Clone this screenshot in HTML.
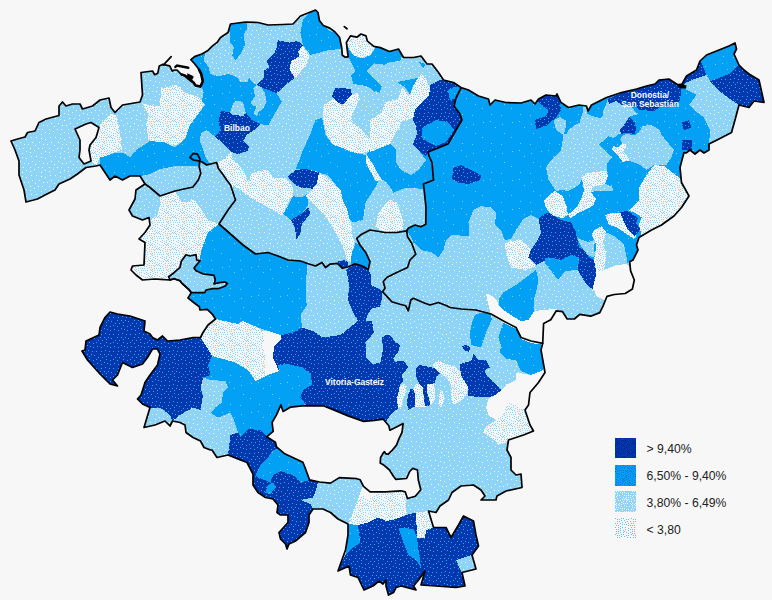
<!DOCTYPE html>
<html lang="es"><head><meta charset="utf-8"><title>Mapa</title>
<style>html,body{margin:0;padding:0;background:#f7f7f7;}svg{display:block}</style></head>
<body><svg width="772" height="600" viewBox="0 0 772 600"><defs><pattern id="pD" width="17" height="17" patternUnits="userSpaceOnUse"><rect width="17" height="17" fill="#0038B0"/><rect x="0" y="0" width="1" height="1" fill="#2CA6F8"/><rect x="2" y="5" width="1" height="1" fill="#2CA6F8"/><rect x="2" y="14" width="1" height="1" fill="#2CA6F8"/><rect x="3" y="10" width="1" height="1" fill="#2CA6F8"/><rect x="4" y="2" width="1" height="1" fill="#2CA6F8"/><rect x="4" y="16" width="1" height="1" fill="#2CA6F8"/><rect x="5" y="6" width="1" height="1" fill="#2CA6F8"/><rect x="6" y="14" width="1" height="1" fill="#2CA6F8"/><rect x="7" y="11" width="1" height="1" fill="#2CA6F8"/><rect x="8" y="3" width="1" height="1" fill="#2CA6F8"/><rect x="8" y="7" width="1" height="1" fill="#2CA6F8"/><rect x="9" y="15" width="1" height="1" fill="#2CA6F8"/><rect x="11" y="2" width="1" height="1" fill="#2CA6F8"/><rect x="11" y="11" width="1" height="1" fill="#2CA6F8"/><rect x="12" y="6" width="1" height="1" fill="#2CA6F8"/><rect x="13" y="0" width="1" height="1" fill="#2CA6F8"/><rect x="15" y="3" width="1" height="1" fill="#2CA6F8"/><rect x="15" y="14" width="1" height="1" fill="#2CA6F8"/><rect x="16" y="7" width="1" height="1" fill="#2CA6F8"/><rect x="16" y="11" width="1" height="1" fill="#2CA6F8"/></pattern><pattern id="pM" width="29" height="29" patternUnits="userSpaceOnUse"><rect width="29" height="29" fill="#02A1F5"/><rect x="2" y="11" width="1" height="1" fill="#7FD0F2"/><rect x="8" y="28" width="1" height="1" fill="#7FD0F2"/><rect x="9" y="8" width="1" height="1" fill="#7FD0F2"/><rect x="11" y="17" width="1" height="1" fill="#7FD0F2"/><rect x="18" y="21" width="1" height="1" fill="#7FD0F2"/><rect x="19" y="6" width="1" height="1" fill="#7FD0F2"/><rect x="26" y="5" width="1" height="1" fill="#7FD0F2"/><rect x="27" y="27" width="1" height="1" fill="#7FD0F2"/></pattern><pattern id="pL" width="19" height="19" patternUnits="userSpaceOnUse"><rect width="19" height="19" fill="#8DD4F7"/><rect x="0" y="15" width="1" height="1" fill="#FFFFFF"/><rect x="1" y="9" width="1" height="1" fill="#FFFFFF"/><rect x="3" y="1" width="1" height="1" fill="#FFFFFF"/><rect x="3" y="5" width="1" height="1" fill="#FFFFFF"/><rect x="4" y="15" width="1" height="1" fill="#FFFFFF"/><rect x="5" y="11" width="1" height="1" fill="#FFFFFF"/><rect x="7" y="6" width="1" height="1" fill="#FFFFFF"/><rect x="7" y="18" width="1" height="1" fill="#FFFFFF"/><rect x="9" y="11" width="1" height="1" fill="#FFFFFF"/><rect x="11" y="0" width="1" height="1" fill="#FFFFFF"/><rect x="11" y="15" width="1" height="1" fill="#FFFFFF"/><rect x="12" y="4" width="1" height="1" fill="#FFFFFF"/><rect x="13" y="9" width="1" height="1" fill="#FFFFFF"/><rect x="15" y="17" width="1" height="1" fill="#FFFFFF"/><rect x="16" y="12" width="1" height="1" fill="#FFFFFF"/><rect x="17" y="4" width="1" height="1" fill="#FFFFFF"/></pattern><pattern id="pX" width="16" height="16" patternUnits="userSpaceOnUse"><rect width="16" height="16" fill="#f7f7f7"/><rect x="0" y="1" width="1" height="1" fill="#8AD2F7"/><rect x="0" y="10" width="1" height="1" fill="#8AD2F7"/><rect x="0" y="12" width="1" height="1" fill="#8AD2F7"/><rect x="1" y="5" width="1" height="1" fill="#8AD2F7"/><rect x="1" y="7" width="1" height="1" fill="#8AD2F7"/><rect x="1" y="14" width="1" height="1" fill="#8AD2F7"/><rect x="2" y="0" width="1" height="1" fill="#8AD2F7"/><rect x="2" y="2" width="1" height="1" fill="#8AD2F7"/><rect x="2" y="10" width="1" height="1" fill="#8AD2F7"/><rect x="3" y="5" width="1" height="1" fill="#8AD2F7"/><rect x="3" y="8" width="1" height="1" fill="#8AD2F7"/><rect x="3" y="12" width="1" height="1" fill="#8AD2F7"/><rect x="3" y="14" width="1" height="1" fill="#8AD2F7"/><rect x="4" y="1" width="1" height="1" fill="#8AD2F7"/><rect x="4" y="3" width="1" height="1" fill="#8AD2F7"/><rect x="5" y="4" width="1" height="1" fill="#8AD2F7"/><rect x="5" y="7" width="1" height="1" fill="#8AD2F7"/><rect x="5" y="9" width="1" height="1" fill="#8AD2F7"/><rect x="5" y="11" width="1" height="1" fill="#8AD2F7"/><rect x="6" y="0" width="1" height="1" fill="#8AD2F7"/><rect x="6" y="2" width="1" height="1" fill="#8AD2F7"/><rect x="6" y="5" width="1" height="1" fill="#8AD2F7"/><rect x="6" y="13" width="1" height="1" fill="#8AD2F7"/><rect x="7" y="4" width="1" height="1" fill="#8AD2F7"/><rect x="7" y="9" width="1" height="1" fill="#8AD2F7"/><rect x="7" y="11" width="1" height="1" fill="#8AD2F7"/><rect x="7" y="14" width="1" height="1" fill="#8AD2F7"/><rect x="8" y="3" width="1" height="1" fill="#8AD2F7"/><rect x="8" y="5" width="1" height="1" fill="#8AD2F7"/><rect x="8" y="7" width="1" height="1" fill="#8AD2F7"/><rect x="8" y="13" width="1" height="1" fill="#8AD2F7"/><rect x="8" y="15" width="1" height="1" fill="#8AD2F7"/><rect x="9" y="1" width="1" height="1" fill="#8AD2F7"/><rect x="9" y="9" width="1" height="1" fill="#8AD2F7"/><rect x="10" y="4" width="1" height="1" fill="#8AD2F7"/><rect x="10" y="7" width="1" height="1" fill="#8AD2F7"/><rect x="10" y="10" width="1" height="1" fill="#8AD2F7"/><rect x="10" y="12" width="1" height="1" fill="#8AD2F7"/><rect x="10" y="14" width="1" height="1" fill="#8AD2F7"/><rect x="11" y="0" width="1" height="1" fill="#8AD2F7"/><rect x="11" y="2" width="1" height="1" fill="#8AD2F7"/><rect x="11" y="6" width="1" height="1" fill="#8AD2F7"/><rect x="11" y="9" width="1" height="1" fill="#8AD2F7"/><rect x="12" y="8" width="1" height="1" fill="#8AD2F7"/><rect x="12" y="12" width="1" height="1" fill="#8AD2F7"/><rect x="13" y="0" width="1" height="1" fill="#8AD2F7"/><rect x="13" y="3" width="1" height="1" fill="#8AD2F7"/><rect x="13" y="6" width="1" height="1" fill="#8AD2F7"/><rect x="13" y="9" width="1" height="1" fill="#8AD2F7"/><rect x="13" y="14" width="1" height="1" fill="#8AD2F7"/><rect x="14" y="8" width="1" height="1" fill="#8AD2F7"/><rect x="14" y="12" width="1" height="1" fill="#8AD2F7"/><rect x="15" y="4" width="1" height="1" fill="#8AD2F7"/><rect x="15" y="7" width="1" height="1" fill="#8AD2F7"/><rect x="15" y="9" width="1" height="1" fill="#8AD2F7"/><rect x="15" y="14" width="1" height="1" fill="#8AD2F7"/></pattern><pattern id="qD" width="16" height="16" patternUnits="userSpaceOnUse"><rect width="16" height="16" fill="#0038B0"/><rect x="0" y="0" width="1" height="1" fill="#00207F"/><rect x="0" y="6" width="1" height="1" fill="#00207F"/><rect x="0" y="9" width="1" height="1" fill="#00207F"/><rect x="0" y="11" width="1" height="1" fill="#00207F"/><rect x="0" y="14" width="1" height="1" fill="#00207F"/><rect x="1" y="2" width="1" height="1" fill="#00207F"/><rect x="1" y="4" width="1" height="1" fill="#00207F"/><rect x="1" y="8" width="1" height="1" fill="#00207F"/><rect x="2" y="10" width="1" height="1" fill="#00207F"/><rect x="2" y="15" width="1" height="1" fill="#00207F"/><rect x="3" y="1" width="1" height="1" fill="#00207F"/><rect x="3" y="3" width="1" height="1" fill="#00207F"/><rect x="3" y="5" width="1" height="1" fill="#00207F"/><rect x="3" y="7" width="1" height="1" fill="#00207F"/><rect x="3" y="12" width="1" height="1" fill="#00207F"/><rect x="4" y="4" width="1" height="1" fill="#00207F"/><rect x="4" y="9" width="1" height="1" fill="#00207F"/><rect x="4" y="14" width="1" height="1" fill="#00207F"/><rect x="5" y="1" width="1" height="1" fill="#00207F"/><rect x="5" y="3" width="1" height="1" fill="#00207F"/><rect x="5" y="5" width="1" height="1" fill="#00207F"/><rect x="5" y="12" width="1" height="1" fill="#00207F"/><rect x="5" y="15" width="1" height="1" fill="#00207F"/><rect x="6" y="6" width="1" height="1" fill="#00207F"/><rect x="6" y="8" width="1" height="1" fill="#00207F"/><rect x="6" y="10" width="1" height="1" fill="#00207F"/><rect x="7" y="1" width="1" height="1" fill="#00207F"/><rect x="7" y="5" width="1" height="1" fill="#00207F"/><rect x="7" y="12" width="1" height="1" fill="#00207F"/><rect x="7" y="14" width="1" height="1" fill="#00207F"/><rect x="8" y="4" width="1" height="1" fill="#00207F"/><rect x="8" y="7" width="1" height="1" fill="#00207F"/><rect x="8" y="9" width="1" height="1" fill="#00207F"/><rect x="8" y="11" width="1" height="1" fill="#00207F"/><rect x="9" y="0" width="1" height="1" fill="#00207F"/><rect x="9" y="3" width="1" height="1" fill="#00207F"/><rect x="9" y="10" width="1" height="1" fill="#00207F"/><rect x="9" y="12" width="1" height="1" fill="#00207F"/><rect x="9" y="14" width="1" height="1" fill="#00207F"/><rect x="10" y="2" width="1" height="1" fill="#00207F"/><rect x="10" y="5" width="1" height="1" fill="#00207F"/><rect x="10" y="8" width="1" height="1" fill="#00207F"/><rect x="10" y="11" width="1" height="1" fill="#00207F"/><rect x="11" y="1" width="1" height="1" fill="#00207F"/><rect x="11" y="4" width="1" height="1" fill="#00207F"/><rect x="11" y="10" width="1" height="1" fill="#00207F"/><rect x="11" y="12" width="1" height="1" fill="#00207F"/><rect x="11" y="15" width="1" height="1" fill="#00207F"/><rect x="12" y="6" width="1" height="1" fill="#00207F"/><rect x="13" y="0" width="1" height="1" fill="#00207F"/><rect x="13" y="2" width="1" height="1" fill="#00207F"/><rect x="13" y="5" width="1" height="1" fill="#00207F"/><rect x="13" y="8" width="1" height="1" fill="#00207F"/><rect x="13" y="11" width="1" height="1" fill="#00207F"/><rect x="13" y="13" width="1" height="1" fill="#00207F"/><rect x="14" y="9" width="1" height="1" fill="#00207F"/><rect x="15" y="2" width="1" height="1" fill="#00207F"/><rect x="15" y="4" width="1" height="1" fill="#00207F"/><rect x="15" y="8" width="1" height="1" fill="#00207F"/><rect x="15" y="13" width="1" height="1" fill="#00207F"/></pattern><pattern id="qM" width="16" height="16" patternUnits="userSpaceOnUse"><rect width="16" height="16" fill="#02A1F5"/><rect x="0" y="0" width="1" height="1" fill="#0A6FD0"/><rect x="0" y="4" width="1" height="1" fill="#0A6FD0"/><rect x="0" y="14" width="1" height="1" fill="#0A6FD0"/><rect x="1" y="2" width="1" height="1" fill="#0A6FD0"/><rect x="1" y="6" width="1" height="1" fill="#0A6FD0"/><rect x="1" y="9" width="1" height="1" fill="#0A6FD0"/><rect x="1" y="12" width="1" height="1" fill="#0A6FD0"/><rect x="2" y="7" width="1" height="1" fill="#0A6FD0"/><rect x="2" y="11" width="1" height="1" fill="#0A6FD0"/><rect x="2" y="13" width="1" height="1" fill="#0A6FD0"/><rect x="2" y="15" width="1" height="1" fill="#0A6FD0"/><rect x="3" y="1" width="1" height="1" fill="#0A6FD0"/><rect x="3" y="3" width="1" height="1" fill="#0A6FD0"/><rect x="3" y="6" width="1" height="1" fill="#0A6FD0"/><rect x="3" y="8" width="1" height="1" fill="#0A6FD0"/><rect x="4" y="4" width="1" height="1" fill="#0A6FD0"/><rect x="4" y="10" width="1" height="1" fill="#0A6FD0"/><rect x="4" y="12" width="1" height="1" fill="#0A6FD0"/><rect x="4" y="14" width="1" height="1" fill="#0A6FD0"/><rect x="5" y="0" width="1" height="1" fill="#0A6FD0"/><rect x="5" y="2" width="1" height="1" fill="#0A6FD0"/><rect x="5" y="5" width="1" height="1" fill="#0A6FD0"/><rect x="5" y="7" width="1" height="1" fill="#0A6FD0"/><rect x="6" y="3" width="1" height="1" fill="#0A6FD0"/><rect x="6" y="6" width="1" height="1" fill="#0A6FD0"/><rect x="6" y="9" width="1" height="1" fill="#0A6FD0"/><rect x="6" y="11" width="1" height="1" fill="#0A6FD0"/><rect x="6" y="13" width="1" height="1" fill="#0A6FD0"/><rect x="7" y="4" width="1" height="1" fill="#0A6FD0"/><rect x="7" y="7" width="1" height="1" fill="#0A6FD0"/><rect x="8" y="1" width="1" height="1" fill="#0A6FD0"/><rect x="8" y="3" width="1" height="1" fill="#0A6FD0"/><rect x="8" y="5" width="1" height="1" fill="#0A6FD0"/><rect x="8" y="9" width="1" height="1" fill="#0A6FD0"/><rect x="8" y="15" width="1" height="1" fill="#0A6FD0"/><rect x="9" y="7" width="1" height="1" fill="#0A6FD0"/><rect x="9" y="11" width="1" height="1" fill="#0A6FD0"/><rect x="9" y="13" width="1" height="1" fill="#0A6FD0"/><rect x="10" y="0" width="1" height="1" fill="#0A6FD0"/><rect x="10" y="2" width="1" height="1" fill="#0A6FD0"/><rect x="10" y="4" width="1" height="1" fill="#0A6FD0"/><rect x="10" y="9" width="1" height="1" fill="#0A6FD0"/><rect x="11" y="6" width="1" height="1" fill="#0A6FD0"/><rect x="11" y="10" width="1" height="1" fill="#0A6FD0"/><rect x="11" y="12" width="1" height="1" fill="#0A6FD0"/><rect x="12" y="2" width="1" height="1" fill="#0A6FD0"/><rect x="12" y="4" width="1" height="1" fill="#0A6FD0"/><rect x="12" y="15" width="1" height="1" fill="#0A6FD0"/><rect x="13" y="6" width="1" height="1" fill="#0A6FD0"/><rect x="13" y="8" width="1" height="1" fill="#0A6FD0"/><rect x="13" y="10" width="1" height="1" fill="#0A6FD0"/><rect x="13" y="12" width="1" height="1" fill="#0A6FD0"/><rect x="14" y="0" width="1" height="1" fill="#0A6FD0"/><rect x="14" y="3" width="1" height="1" fill="#0A6FD0"/><rect x="14" y="14" width="1" height="1" fill="#0A6FD0"/><rect x="15" y="1" width="1" height="1" fill="#0A6FD0"/><rect x="15" y="6" width="1" height="1" fill="#0A6FD0"/><rect x="15" y="8" width="1" height="1" fill="#0A6FD0"/><rect x="15" y="11" width="1" height="1" fill="#0A6FD0"/><rect x="15" y="15" width="1" height="1" fill="#0A6FD0"/></pattern><pattern id="qL" width="16" height="16" patternUnits="userSpaceOnUse"><rect width="16" height="16" fill="#8DD4F7"/><rect x="0" y="3" width="1" height="1" fill="#FFFFFF"/><rect x="0" y="9" width="1" height="1" fill="#FFFFFF"/><rect x="0" y="12" width="1" height="1" fill="#FFFFFF"/><rect x="0" y="15" width="1" height="1" fill="#FFFFFF"/><rect x="1" y="2" width="1" height="1" fill="#FFFFFF"/><rect x="1" y="7" width="1" height="1" fill="#FFFFFF"/><rect x="2" y="1" width="1" height="1" fill="#FFFFFF"/><rect x="2" y="3" width="1" height="1" fill="#FFFFFF"/><rect x="2" y="5" width="1" height="1" fill="#FFFFFF"/><rect x="2" y="10" width="1" height="1" fill="#FFFFFF"/><rect x="2" y="13" width="1" height="1" fill="#FFFFFF"/><rect x="2" y="15" width="1" height="1" fill="#FFFFFF"/><rect x="3" y="4" width="1" height="1" fill="#FFFFFF"/><rect x="3" y="7" width="1" height="1" fill="#FFFFFF"/><rect x="4" y="1" width="1" height="1" fill="#FFFFFF"/><rect x="4" y="3" width="1" height="1" fill="#FFFFFF"/><rect x="4" y="13" width="1" height="1" fill="#FFFFFF"/><rect x="4" y="15" width="1" height="1" fill="#FFFFFF"/><rect x="5" y="5" width="1" height="1" fill="#FFFFFF"/><rect x="5" y="10" width="1" height="1" fill="#FFFFFF"/><rect x="6" y="1" width="1" height="1" fill="#FFFFFF"/><rect x="6" y="7" width="1" height="1" fill="#FFFFFF"/><rect x="6" y="15" width="1" height="1" fill="#FFFFFF"/><rect x="7" y="3" width="1" height="1" fill="#FFFFFF"/><rect x="7" y="5" width="1" height="1" fill="#FFFFFF"/><rect x="7" y="8" width="1" height="1" fill="#FFFFFF"/><rect x="7" y="13" width="1" height="1" fill="#FFFFFF"/><rect x="8" y="0" width="1" height="1" fill="#FFFFFF"/><rect x="8" y="7" width="1" height="1" fill="#FFFFFF"/><rect x="8" y="9" width="1" height="1" fill="#FFFFFF"/><rect x="8" y="11" width="1" height="1" fill="#FFFFFF"/><rect x="9" y="2" width="1" height="1" fill="#FFFFFF"/><rect x="9" y="13" width="1" height="1" fill="#FFFFFF"/><rect x="9" y="15" width="1" height="1" fill="#FFFFFF"/><rect x="10" y="4" width="1" height="1" fill="#FFFFFF"/><rect x="10" y="8" width="1" height="1" fill="#FFFFFF"/><rect x="10" y="11" width="1" height="1" fill="#FFFFFF"/><rect x="11" y="7" width="1" height="1" fill="#FFFFFF"/><rect x="11" y="9" width="1" height="1" fill="#FFFFFF"/><rect x="11" y="15" width="1" height="1" fill="#FFFFFF"/><rect x="12" y="1" width="1" height="1" fill="#FFFFFF"/><rect x="12" y="4" width="1" height="1" fill="#FFFFFF"/><rect x="12" y="12" width="1" height="1" fill="#FFFFFF"/><rect x="13" y="6" width="1" height="1" fill="#FFFFFF"/><rect x="13" y="8" width="1" height="1" fill="#FFFFFF"/><rect x="13" y="10" width="1" height="1" fill="#FFFFFF"/><rect x="14" y="3" width="1" height="1" fill="#FFFFFF"/><rect x="14" y="12" width="1" height="1" fill="#FFFFFF"/><rect x="14" y="14" width="1" height="1" fill="#FFFFFF"/><rect x="15" y="1" width="1" height="1" fill="#FFFFFF"/><rect x="15" y="5" width="1" height="1" fill="#FFFFFF"/><rect x="15" y="7" width="1" height="1" fill="#FFFFFF"/></pattern><pattern id="qX" width="16" height="16" patternUnits="userSpaceOnUse"><rect width="16" height="16" fill="#f7f7f7"/><rect x="0" y="3" width="1" height="1" fill="#5CC0F5"/><rect x="0" y="8" width="1" height="1" fill="#5CC0F5"/><rect x="0" y="12" width="1" height="1" fill="#5CC0F5"/><rect x="1" y="1" width="1" height="1" fill="#5CC0F5"/><rect x="1" y="10" width="1" height="1" fill="#5CC0F5"/><rect x="1" y="15" width="1" height="1" fill="#5CC0F5"/><rect x="2" y="4" width="1" height="1" fill="#5CC0F5"/><rect x="2" y="7" width="1" height="1" fill="#5CC0F5"/><rect x="2" y="12" width="1" height="1" fill="#5CC0F5"/><rect x="3" y="9" width="1" height="1" fill="#5CC0F5"/><rect x="4" y="0" width="1" height="1" fill="#5CC0F5"/><rect x="4" y="2" width="1" height="1" fill="#5CC0F5"/><rect x="4" y="5" width="1" height="1" fill="#5CC0F5"/><rect x="4" y="7" width="1" height="1" fill="#5CC0F5"/><rect x="4" y="11" width="1" height="1" fill="#5CC0F5"/><rect x="4" y="13" width="1" height="1" fill="#5CC0F5"/><rect x="6" y="1" width="1" height="1" fill="#5CC0F5"/><rect x="6" y="4" width="1" height="1" fill="#5CC0F5"/><rect x="6" y="9" width="1" height="1" fill="#5CC0F5"/><rect x="6" y="13" width="1" height="1" fill="#5CC0F5"/><rect x="7" y="6" width="1" height="1" fill="#5CC0F5"/><rect x="7" y="11" width="1" height="1" fill="#5CC0F5"/><rect x="7" y="15" width="1" height="1" fill="#5CC0F5"/><rect x="8" y="1" width="1" height="1" fill="#5CC0F5"/><rect x="8" y="3" width="1" height="1" fill="#5CC0F5"/><rect x="8" y="5" width="1" height="1" fill="#5CC0F5"/><rect x="8" y="13" width="1" height="1" fill="#5CC0F5"/><rect x="9" y="7" width="1" height="1" fill="#5CC0F5"/><rect x="9" y="9" width="1" height="1" fill="#5CC0F5"/><rect x="9" y="11" width="1" height="1" fill="#5CC0F5"/><rect x="10" y="1" width="1" height="1" fill="#5CC0F5"/><rect x="10" y="3" width="1" height="1" fill="#5CC0F5"/><rect x="10" y="5" width="1" height="1" fill="#5CC0F5"/><rect x="10" y="13" width="1" height="1" fill="#5CC0F5"/><rect x="10" y="15" width="1" height="1" fill="#5CC0F5"/><rect x="11" y="7" width="1" height="1" fill="#5CC0F5"/><rect x="11" y="9" width="1" height="1" fill="#5CC0F5"/><rect x="12" y="0" width="1" height="1" fill="#5CC0F5"/><rect x="12" y="2" width="1" height="1" fill="#5CC0F5"/><rect x="12" y="4" width="1" height="1" fill="#5CC0F5"/><rect x="12" y="11" width="1" height="1" fill="#5CC0F5"/><rect x="12" y="14" width="1" height="1" fill="#5CC0F5"/><rect x="13" y="6" width="1" height="1" fill="#5CC0F5"/><rect x="13" y="8" width="1" height="1" fill="#5CC0F5"/><rect x="14" y="10" width="1" height="1" fill="#5CC0F5"/><rect x="14" y="12" width="1" height="1" fill="#5CC0F5"/><rect x="14" y="15" width="1" height="1" fill="#5CC0F5"/><rect x="15" y="2" width="1" height="1" fill="#5CC0F5"/><rect x="15" y="4" width="1" height="1" fill="#5CC0F5"/><rect x="15" y="6" width="1" height="1" fill="#5CC0F5"/></pattern><clipPath id="cl"><path d="M11 141 L17.5 139 L25 137 L27.5 132.5 L35 131 L39 122.5 L46 119 L59 115.5 L59 106 L62.5 102 L66 106 L72.5 104 L80 104 L82.5 109 L92.5 106 L100 100 L109 98 L111 107.5 L115 112.5 L122.5 105 L140 102 L142.5 95 L141 72.5 L152.5 71 L154.7 74.7 L157.8 73.2 L159.3 65.9 L162.4 64.4 L169.7 65.9 L172.3 71.1 L174.4 70 L177 70 L181 74.2 L185.2 75.8 L189.4 79.4 L193.5 82.5 L195.6 85.6 L200.3 86.6 L202.8 81.5 L201.3 74.2 L198.7 69 L194.6 63.8 L190.9 59.7 L194.6 56.6 L201.8 54 L208 50.4 L212.2 46.2 L217.4 42.1 L220.5 37.5 L228 32.5 L230.5 24 L245.5 22 L258 22.5 L268 25 L283 24.5 L293 24 L300.5 16 L305.5 14 L315.5 10 L318 12.5 L319.4 20.4 L323.3 25.5 L329.8 28.1 L335 32 L339.5 37.2 L341.7 47.6 L342.3 55.3 L345.3 57.3 L348.2 56.6 L347.1 48.9 L346.4 42.4 L350.5 35.9 L357 37.2 L360.9 34 L366 35.9 L367.4 41.1 L373.8 46.3 L380.3 47.6 L389.4 51.5 L398.5 49 L403.5 57.5 L413.5 57.5 L421 56 L427 64 L432 64 L438.5 72.5 L443.5 80 L453.5 82.5 L461 87.5 L468.5 90 L478.5 96 L488.5 99 L490 105 L495 100 L506 102.5 L521 103 L531 100 L535 104 L538.5 99 L546 95 L556 96 L557 94 L561 102.5 L568.5 107.5 L579 105 L586.5 106 L588 111 L591.5 105 L606.5 97.5 L621.5 92.5 L636.5 89 L646.5 86 L655 84 L659 80 L669 79 L676.5 84 L681 86 L686.5 76 L696.5 70 L700 61 L706.5 55 L719 50 L729 46 L735 43 L736.5 49 L734 54 L739 65 L744 70 L749 74 L759 80 L764 102.5 L754 101 L749 107.5 L739 105 L735 120 L731.5 132.5 L719 139 L709 144 L709 150 L704 153 L700 150 L695 154 L690 150 L686 153 L684 152.5 L680 167.5 L681.5 182.5 L689 196 L681.5 207.5 L674 216 L661.5 225 L651.5 230 L639 237.5 L636.5 245 L638 250 L633 260 L629.7 261.8 L630.6 270.9 L634.3 280 L632.4 289 L625.2 293.5 L614.3 294.5 L607 296.3 L603.4 305.3 L599.8 312.6 L590.7 316.2 L579.8 314.4 L574.4 319 L567.2 319 L562.6 311.7 L556.3 310.8 L550.8 319.8 L543.6 323.5 L542.7 343.4 L541 350 L545 372.5 L538.5 382.5 L530 392.5 L528.5 405 L525 410 L530 425 L533.5 431 L523.5 435 L508.5 440 L507 450 L511 457.5 L511 470 L516 475 L521 474 L522 487.5 L506 491 L497 496 L496 500 L481 500 L485 496 L481 490 L473.5 485 L461 486 L452 492.5 L448.5 500 L440 506 L436 512.5 L428.5 511 L433.5 527.5 L446 527.5 L451 537.5 L458.5 525 L463.5 516 L473.5 521 L476 535 L478.5 546 L472 555 L476 569 L462 572.5 L465 586 L456 587.5 L436 586 L421 585 L425 571 L418.5 580 L413.5 586 L416 590 L401 586 L396 587.5 L393.5 592.5 L388.5 595 L386 586 L386 580 L383 584 L379 581 L373 586 L364 590 L358 577.5 L350.5 575 L349 566 L338 571 L345.5 550 L348 535 L348 524 L338 519 L330.5 512.5 L323 509 L313 509 L309 515 L309 522.5 L305.5 532.5 L295.5 541 L289 544 L287 549 L285.5 544 L280.5 539 L279 532.5 L288 522.5 L288 515 L280.5 515 L277 512.5 L278 505 L273 499 L265.5 497.5 L258 492.5 L253 485 L253 474 L247 462.5 L238 459 L228 455 L217 457.5 L212 450 L210.5 450 L204 447.5 L200.5 441 L193 437.5 L186 432.5 L185 425 L180 422.5 L172.5 421 L170 426 L165 421 L155 425 L144 427.5 L150 407.5 L142.5 404 L137.5 399 L141 395 L145 382.5 L150 375 L157.5 365 L160 354 L157.5 349 L152.5 349 L147.5 357.5 L142.5 364 L132.5 367.5 L122.5 362.5 L117.5 375 L112.5 380 L117.5 386 L110 384 L100 374 L87.5 360 L82 351 L85 350 L86 341 L99 335 L100 327.5 L105 317.5 L110 312 L117.5 314 L130 316 L145 321 L144 331 L150 334 L152.5 337.5 L157.5 340 L162.5 336 L167.5 341 L180 340 L193 337.5 L200.5 337.5 L203 332.5 L208 325 L215.5 319 L212.7 314.7 L207.3 309.3 L200 310 L199.3 306.7 L194 302.7 L188 298 L191.3 292.7 L188.7 289.3 L182 283.3 L180 280.7 L174 278.7 L170 280 L160.7 279.3 L155 279 L142.5 280 L136 275 L131 270 L132.5 266 L144 265 L145 242.5 L139 239 L145 232.5 L150 225 L149 217.5 L142.5 220 L132.5 216 L129 210 L135 199 L136 190 L145 184 L140 176 L130 176 L122.5 180 L115 176 L110 180 L104 171 L100 165 L96 166 L86 167.5 L77.5 174 L70 179 L59 184 L55 190 L45 195 L37.5 199 L26 202 L24 190 L19 175 L19 161 L15 150Z"/></clipPath></defs><rect width="772" height="600" fill="#f7f7f7"/><g clip-path="url(#cl)" shape-rendering="crispEdges"><rect width="772" height="600" fill="url(#pL)"/><path d="M453.5 80 L461 85 L490 93 L540 90 L580 98 L620 88 L660 76 L690 70 L700 59 L740 38 L745 70 L767 80 L767 110 L740 110 L735 135 L712 152 L684 154 L680 167.5 L681.5 182.5 L691 196 L642 240 L640 250 L631 261.8 L596 269 L578 260 L579 257.5 L571 255 L561 260 L551 257.5 L536 265 L528.5 257.5 L531 250 L536 242.5 L541 232.5 L538.5 219 L531 215 L523.5 219 L516 230 L511 239 L505 240 L501 231 L495 225 L496 212.5 L491 207.5 L481 206 L473.5 210 L468.5 222.5 L468.5 236 L452 235 L446 240 L443.5 250 L438.5 257.5 L432 252.5 L421 250 L413.5 242.5 L411 236.7 L406.7 230.8 L408.3 228.3 L415 225 L420.8 226.7 L425.8 224.2 L426 207.5 L423.5 184 L433.5 180 L432 162.5 L428 152 L438 148 L448 144 L456 130 L462 120 L460 114 L454 106 L456 98Z" fill="url(#pM)"/><path d="M100 125 L110 114 L116 115 L120 132 L122 150 L115 152 L109 155 L100 158 L96 166 L91 161 L89 150 L96 137 L99 127Z" fill="url(#pX)"/><path d="M142 103.3 L159.4 106.6 L161.5 88.2 L176.7 85 L185.4 92.5 L198.4 96.8 L204.9 103.3 L198.4 114.2 L191.9 125 L194 131.5 L181 142.4 L170.2 146.7 L161.5 142.4 L148.5 140.2 L146.4 125 L148.5 114.2Z" fill="url(#pX)"/><path d="M100 157.5 L109 155 L115 152.5 L122.5 152.5 L130 157.5 L136 150 L140 147.5 L150 141 L165 142.5 L175 147.5 L185 139 L190 125 L195 118.3 L205 105 L201.7 101.7 L203.6 92.4 L201 84 L203 81 L201 74 L198.7 69 L191 60 L193.5 56.2 L205.3 52 L203.6 60.4 L208.6 67.2 L210.3 73.9 L218.7 76.4 L228.8 73.9 L237.3 77.3 L240.6 82.3 L247.4 82.3 L249 77.3 L252.4 82.3 L256.7 85 L261.7 87.5 L268.3 90 L276.7 93.3 L281.7 101.7 L275 113.3 L268.3 125 L260 124.2 L255 129.2 L246.7 135 L243.3 140.8 L249.2 146.7 L247.5 150.8 L238.3 154.2 L230.8 151.7 L225 158.3 L218.3 161.7 L216.7 162.5 L206.7 165 L201.7 161.7 L200 159.2 L199.2 166.7 L193 166 L175 166 L160 169 L150 174 L140 176 L130 176 L122.5 180 L115 176 L110 180 L104 171 L100 165Z" fill="url(#pM)"/><path d="M232.5 105 L235 100.8 L242.5 101.7 L244.2 107.5 L245.8 112.5 L243.3 115.8 L232.5 115 L230 112.5Z" fill="url(#pL)"/><path d="M250.8 101.7 L255 96.7 L253.3 88.3 L256.7 85 L261.7 87.5 L265 93.3 L266.7 101.7 L263.3 108.3 L258.3 112.5 L256.7 116.7 L253.3 113.3 L256.7 106.7 L251.7 105Z" fill="url(#pL)"/><path d="M220.8 110.8 L230 112.5 L232.5 115 L243.3 115.8 L245.8 112.5 L251.7 120 L260 124.2 L255 129.2 L246.7 135 L243.3 140.8 L249.2 146.7 L247.5 150.8 L238.3 154.2 L230.8 151.7 L224.2 144.2 L215 136.7 L220.8 130 L218.3 121.7Z" fill="url(#pD)"/><path d="M200.8 133.3 L206.7 130 L215 136.7 L224.2 144.2 L230.8 151.7 L225 158.3 L218.3 161.7 L210 163.3 L205.8 158.3 L203.3 150 L200 141.7Z" fill="url(#pL)"/><path d="M230.5 22.5 L247.4 22.5 L247.4 28.4 L244 33.5 L244.8 45.3 L240.6 53.7 L235.6 60.4 L232.2 55.4 L233.9 47 L229.7 41.9 L230.5 35 L228 28.4Z" fill="url(#pM)"/><path d="M277.7 40.2 L289.5 42.7 L297.9 41 L302.9 45.3 L297.9 52 L299.6 56.2 L291.1 61.3 L289.5 68.8 L294.5 78.1 L284.4 85.7 L276.7 93.3 L268.3 90 L261.7 87.5 L256.6 84.8 L264.2 77.3 L264.2 70.5 L269.3 67.2 L266.7 60.4 L274.3 53.7 L276.8 46.9Z" fill="url(#pD)"/><path d="M302.9 45.3 L309.5 56.3 L305.5 66.2 L294.5 78.1 L289.5 68.8 L291.1 61.3 L299.6 56.2 L297.9 52Z" fill="url(#pX)"/><path d="M303 20 L315.5 7 L320.5 22.5 L328 30 L337 34 L343 41 L340.5 49 L329 50 L310.5 55 L302.9 45.3 L300.5 32.5Z" fill="url(#pM)"/><path d="M346.7 42 L350.5 37 L364.3 34 L370.9 44.2 L375.3 48.6 L373.1 50.8 L370.9 55.2 L362.1 58.5 L353.3 55.2 L348.9 48.6Z" fill="url(#pX)"/><path d="M375.5 44 L386 46 L398.5 47 L402 56 L400 61 L390 62 L384 65 L376 62 L372 60Z" fill="url(#pM)"/><path d="M346 43 L348.9 48.6 L353.3 55.2 L362.1 58.5 L370.9 55.2 L373.1 50.8 L384.2 55.2 L388.6 61.8 L384.2 64 L373.1 64 L366.5 70.7 L375.3 79.5 L382 86.1 L379.7 92.7 L366.5 86.1 L353.3 83.9 L351.1 75.1 L355.5 70.7 L350 59.7 L346 56Z" fill="url(#pM)"/><path d="M335.5 87.5 L350.5 89 L352 95 L345.5 105 L337 102.5 L332 96Z" fill="url(#pD)"/><path d="M323.6 105.9 L333.5 98.2 L342.3 105.9 L351.1 94.9 L357.7 92.7 L359.9 99.3 L355.5 108.1 L351.1 116.9 L353.3 123.5 L362.1 130.1 L370.9 140 L375.3 136.7 L370.9 123.5 L379.7 116.9 L393 103.7 L400 101.5 L400 128 L386 140 L378 148 L366 152 L357 154 L351 153 L343 149 L333 145 L326.9 135 L322.5 116.9Z" fill="url(#pX)"/><path d="M303 150 L310 135 L315.5 120 L322 118 L325.5 135 L333 145 L343 148 L351 152 L357 153 L365.5 155 L373 172.5 L378 182.5 L365.5 202.5 L363 220 L353 222.5 L348 217.5 L343 200 L338 187.5 L328 175 L318 172.5 L317 171 L295.5 169 L300.5 157.5Z" fill="url(#pM)"/><path d="M366.6 155 L370 149 L378 146.5 L380 148 L390 144 L396 150 L396 162.5 L401 170 L411 175 L418.5 170 L426 160 L418.5 150 L428.5 150 L432 162.5 L433.5 180 L423.5 184 L423.5 189 L406 187.5 L393.5 192.5 L388 184 L381.7 179 L377.5 172.5 L373 164Z" fill="url(#pM)"/><path d="M365.5 155 L366.6 155 L373 164 L377.5 172.5 L381.7 180 L375.5 181 L371 172.5 L365.5 161.7Z" fill="url(#pX)"/><path d="M390.5 199.6 L397 202.8 L400 211.5 L403.5 222.5 L403.3 228.3 L396.7 231.7 L385 231.7 L378.3 229.2 L375.3 226.6 L377.5 215.8 L384 205Z" fill="url(#pX)"/><path d="M397 82 L418 78 L413 86 L410 95 L406 88Z" fill="url(#pM)"/><path d="M419 62 L425 64 L424 69Z" fill="url(#pM)"/><path d="M370 78 L376 80 L379 90 L374 92 L370 88Z" fill="url(#pM)"/><path d="M421 74 L425 77 L430 88 L429 96 L418 106 L414 118 L400 122 L396 132 L390 144 L380 148 L370 152 L370 120 L382 112 L385 102 L398 99 L402 88 L410 96 L413 86 L418 78Z" fill="url(#pX)"/><path d="M430 85 L440 80 L452 82 L458 85 L461 89 L456 98 L454 106 L460 114 L462 120 L456 130 L448 144 L438 148 L428 152 L426 156 L420 152 L413 144 L417 134 L416 126 L413 120 L415 110 L422 102 L429 96 L430 88Z" fill="url(#pD)"/><path d="M422 128 L436 120 L448 122 L454 130 L446 142 L436 146 L428 142 L422 138Z" fill="url(#pM)"/><path d="M448 90 L458 86 L461 89 L456 98 L450 100Z" fill="url(#pM)"/><path d="M216.7 162.5 L225 158.3 L230.8 152 L233.3 160 L240 166.7 L243.3 171 L249 182.5 L250.5 197.5 L240.5 190 L230.5 185 L226.7 180 L223.3 175 L218.3 168.3Z" fill="url(#pX)"/><path d="M249 182.5 L251.7 173.3 L258 171 L268 170 L273 177.5 L285.5 177.5 L293 187.5 L293 194 L288 202.5 L283 216 L268 207.5 L250.5 197.5Z" fill="url(#pX)"/><path d="M287.6 176.8 L295.2 170.3 L305 168.8 L319 172.5 L316.8 183.3 L312.5 188.7 L301.7 187.6 L296.2 185.5Z" fill="url(#pD)"/><path d="M293 196.3 L301.7 197.4 L307 194 L308.2 205 L301.7 213.6 L290.8 220 L283.2 213.6 L288.7 205Z" fill="url(#pM)"/><path d="M308.2 207 L310.3 213.6 L301.7 224.5 L300.6 233 L296.2 239.6 L295.2 228.8 L290.8 220 L301.7 213.6Z" fill="url(#pD)"/><path d="M319 172.5 L332 181 L340.6 189.8 L342.8 200.6 L347 209.3 L349.3 218 L351.7 226.7 L352.5 235 L355 241.7 L351.7 253.3 L350.8 261.7 L346.7 260 L345 252.6 L340.6 241.8 L332 226.6 L323.3 213.6 L312.5 202.8 L306 196.3 L307 194 L312.5 188.7 L316.8 183.3Z" fill="url(#pX)"/><path d="M355.8 242.5 L360 245 L365.8 252.5 L370 261.7 L368.3 269.2 L361.7 265.8 L355 263.7 L350.8 264.2 L351.7 253.3Z" fill="url(#pM)"/><path d="M337.5 261.7 L343.3 260 L347.5 261.7 L348.3 265.8 L342.5 268.3Z" fill="url(#pD)"/><path d="M160 196 L175 191 L177.5 196 L182.5 202.5 L193 200 L200.5 207.5 L208 220 L219 224 L208 232.5 L202 248 L200.7 253.3 L200 260.7 L196.7 260 L196 254.7 L190 256 L186 254.7 L181.3 261.3 L180 267.3 L174 272.7 L168.7 276.7 L170 280 L160.7 279.3 L155 279 L142.5 280 L136 275 L131 270 L132.5 266 L144 265 L145 242.5 L139 239 L145 232.5 L150 225 L150 220 L157.5 215 L160 204Z" fill="url(#pX)"/><path d="M219 224 L230.5 234 L243 245 L255.5 254 L268 252.5 L278 256 L288 260 L300.5 261 L307 263.7 L305.5 300 L307 305 L300.5 315 L302 327.5 L293 332.5 L280.5 335 L268 331 L258 327.5 L243 321 L238 324 L215.5 319 L212.7 314.7 L207.3 309.3 L200 310 L199.3 306.7 L194 302.7 L188 298 L191.3 292.7 L204.7 292.7 L206 290 L212.7 288.7 L218 288.7 L225.3 286 L227.3 283.3 L224.7 282 L219.3 282.7 L214 284 L215.3 280 L214 275.3 L208.7 274.7 L203.3 274 L196 270.7 L194 268 L200 260.7 L200.7 253.3 L202 248 L208 232.5Z" fill="url(#pM)"/><path d="M82 351 L86 341 L99 335 L100 327.5 L105 317.5 L110 312 L130 316 L145 321 L144 331 L152.5 337.5 L162.5 336 L167.5 341 L193 337.5 L200.5 337.5 L205.5 345 L212 356 L208 365 L210.5 375 L203 377.5 L200.5 387.5 L203 395 L200.5 410 L193 407.5 L180 415 L172.5 421 L170 415 L160 407.5 L150 407.5 L142.5 404 L137.5 399 L141 395 L145 382.5 L150 375 L157.5 365 L160 354 L157.5 349 L152.5 349 L147.5 357.5 L142.5 364 L132.5 367.5 L122.5 362.5 L117.5 375 L112.5 380 L117.5 386 L110 384 L100 374 L87.5 360Z" fill="url(#pD)"/><path d="M345.8 270 L351.7 265.8 L355 263.7 L361.7 265.8 L368.3 269.2 L370.8 275 L370.8 285 L378.3 288.3 L382.5 291.7 L381.7 300 L380 306.7 L371.7 308.3 L368.3 313.3 L365.5 321 L358 321 L353 312.5 L348 300 L349 285 L347 272.5Z" fill="url(#pD)"/><path d="M280.5 335 L293 332.5 L302 327.5 L313 331 L323 337.5 L340.5 335 L353 325 L358 321 L365.5 321 L372 321 L374 332.5 L365.5 342.5 L365.5 357.5 L373 364 L380.5 362.5 L383 350 L382 337.5 L386 335 L390 335 L395 341.7 L400 345 L398.3 351.7 L393.3 358.3 L395 361.7 L403.3 360.8 L408.3 366.7 L405 371.7 L401.7 375 L403.3 381.7 L400 385 L396.7 400 L398.3 408.3 L391 414 L385 423 L374.5 424 L363.5 424 L348.1 419 L334.9 414 L323.9 410 L310.5 409 L305.5 404 L300.5 397.5 L303 390 L312 385 L310.5 374 L303 367.5 L288 364 L278 365 L279 371 L273 357.5 L274 346 L280.5 340Z" fill="url(#pD)"/><path d="M203 332.5 L208 325 L215.5 319 L238 324 L243 321 L258 327.5 L262 331 L264 338 L263 345 L265 355 L265 376.5 L255.5 381 L248 370 L235.5 362.5 L223 359 L212 356 L205.5 345 L200.5 337.5Z" fill="url(#pX)"/><path d="M262 331 L268 331 L280.5 335 L280.5 340 L274 346 L273 357.5 L279 371 L268 375 L265 376.5 L265 355 L263 345 L264 338Z" fill="#f7f7f7"/><path d="M212 356 L223 359 L235.5 362.5 L248 370 L255.5 381 L268 375 L279 371 L278 365 L288 364 L303 367.5 L310.5 374 L312 385 L303 390 L300.5 397.5 L305.5 404 L293 409 L282 413 L276.5 414.8 L274 422.5 L275 431.3 L268 437 L260.5 430 L248 429 L240.5 437.5 L238 432.5 L234 420 L230.5 412.5 L218 417.5 L212 414 L210.5 412.5 L215.5 407.5 L222 402.5 L223 392.5 L228 387.5 L225.5 381 L210.5 380 L203 377.5 L210.5 375 L208 365Z" fill="url(#pM)"/><path d="M228 455 L230.5 435 L238 432.5 L240.5 437.5 L248 429 L260.5 430 L268 437 L277 442 L278 447 L285 452 L303 460 L307 467.7 L311 479.8 L318 482.5 L315.5 491 L313 497.5 L300.5 500 L310.5 504 L313 509 L310 525 L305 535 L287 551 L275 535 L275 500 L250 490 L245 462Z" fill="url(#pD)"/><path d="M273 450 L280.5 448 L285 452 L303 460 L307 467.7 L311 479.8 L300.5 482.5 L293 475 L280.5 471 L273 475 L270.5 482.5 L258 477.5 L255.5 475 L260.5 465 L268 457.5Z" fill="url(#pM)"/><path d="M268 485 L273 482.5 L275.5 487.5 L270.5 494 L265.5 492.5Z" fill="url(#pM)"/><path d="M358 500 L360 493 L363.5 484 L370.1 490 L385.5 490 L396 489 L405 490 L406 499 L406 515 L396 519 L386 521 L378 517.5 L368 522.5 L358 525 L348 524 L353 512.5Z" fill="url(#pX)"/><path d="M358 500 L363 495 L368 499 L375.5 496 L378 490 L370.1 490 L363.5 484 L360 493Z" fill="#f7f7f7"/><path d="M358 525 L368 522.5 L378 517.5 L386 521 L396 519 L406 515 L416 512.5 L417 537.5 L425 537.5 L426 530 L433.5 527.5 L446 527.5 L451 537.5 L458.5 525 L463.5 514 L475 521 L480 546 L478 569 L467 590 L386 598 L364 592 L336 573 L345.5 555 L353 547.5 L360.5 542.5Z" fill="url(#pD)"/><path d="M348 524 L358 525 L360.5 542.5 L353 547.5 L345.5 555 L348 535Z" fill="url(#pM)"/><path d="M416 512.5 L428.5 511 L433.5 527.5 L426 530 L425 537.5 L417 537.5Z" fill="url(#pX)"/><path d="M398.5 527.5 L413.5 529 L417 537.5 L418.5 550 L421 567.5 L416 560 L408.5 555 L403.5 542.5Z" fill="url(#pM)"/><path d="M456 560 L471 555 L478 569 L462 573.5Z" fill="url(#pL)"/><path d="M475 315 L481 312.5 L491 314 L492 319 L486 332.5 L481 347.5 L471 345 L470 332.5 L472 322.5Z" fill="url(#pM)"/><path d="M503.5 321 L516 327.5 L521 337.5 L531 341 L542.7 343.4 L541 350 L543.5 370 L531 375 L521 371 L516 360 L506 359 L500 352.5 L501 345 L498.5 337.5 L501 330Z" fill="url(#pM)"/><path d="M473.5 354 L478.5 360 L486 360 L490 367.5 L485 370 L486 375 L493.5 382.5 L502 390 L493.5 396 L486 397.5 L468.5 396 L467 386 L461 377.5 L460 364 L471 361Z" fill="url(#pD)"/><path d="M461.7 345.8 L466.7 345 L470 347.5 L469.2 351.7 L465 350.8Z" fill="url(#pD)"/><path d="M400 385 L405 384 L406.7 391.7 L403.3 398.3 L401.7 406.7 L398.3 408.3 L396.7 400Z" fill="url(#pX)"/><path d="M415 385.8 L419.2 383.3 L422.5 386.7 L423.3 393.3 L424.2 401.7 L425.8 406.7 L415 406.7 L414.2 398.3 L413.3 390Z" fill="url(#pX)"/><path d="M427.5 384.2 L433.3 383.3 L435 390 L435 400 L430 405 L429.2 398.3 L426.7 391.7Z" fill="url(#pX)"/><path d="M440 390 L444.2 393.3 L444.2 401.7 L440.8 408.3 L438.3 403.3 L439.2 396.7Z" fill="url(#pX)"/><path d="M415.8 369.2 L420 365 L428.3 366.7 L435 368.3 L440 373.3 L435.8 377.5 L435 383.3 L427.5 384.2 L426.7 391.7 L429.2 398.3 L430 405 L425.8 406.7 L424.2 401.7 L423.3 393.3 L422.5 386.7 L419.2 383.3 L415.8 376.7Z" fill="url(#pD)"/><path d="M410.8 388.3 L414.2 390 L415 398.3 L415 406.7 L408.3 410 L406.7 401.7 L408.3 395Z" fill="url(#pD)"/><path d="M432.5 365 L438.3 360 L446.7 364.2 L455 366.7 L460 371.7 L462.5 378.3 L468.3 386.7 L466.7 395 L460 401.7 L453.3 405 L450.8 398.3 L451.7 388.3 L450 381.7 L445 376.7 L440 373.3 L435 368.3Z" fill="url(#pX)"/><path d="M516 372.5 L531 375 L543.5 370 L548 373 L540 383 L531 393 L530 405 L525 410 L516 405 L508.5 402.5 L503.5 412.5 L496 420 L488.5 415 L486 407.5 L488.5 399 L493.5 396 L502 390 L506 385 L516 380Z" fill="#f7f7f7"/><path d="M508.5 402.5 L516 405 L525 410 L531 425 L535 431 L523.5 437 L508.5 442 L498.5 445 L493.5 440 L483.5 432.5 L485 427.5 L496 420 L503.5 412.5Z" fill="url(#pX)"/><path d="M453.5 167.5 L461 165 L473.5 171 L482 176 L478.5 181 L468.5 184 L458.5 182.5 L452 179Z" fill="url(#pD)"/><path d="M536 100 L546 93 L558.5 95 L561 110 L556 117.5 L546 126 L536 129 L535 120 L546 116 L548.5 110 L541 105Z" fill="url(#pD)"/><path d="M560 117 L566 120.7 L566 126.2 L564.2 133.5 L566 134.4 L568.7 129.8 L573.3 126.2 L579.7 122.5 L580.7 118.8 L582.5 113.3 L582.5 104 L587.5 108 L587.1 113.3 L590.7 115.6 L595.3 117 L600.8 117.9 L602.7 116.1 L603.6 109.7 L606.3 104.2 L607.7 99.1 L620 100 L630.7 105 L634.7 111.3 L638.7 114 L629.3 116.7 L625.3 123.3 L620 130 L621.3 134 L619.2 133.5 L613.7 138 L608.2 136.2 L603.6 140.8 L599 144.5 L604 150 L611.5 157.5 L606.5 165 L606.5 174 L594 172.5 L584 175 L579 185 L568.5 191 L561 190 L556 191 L548.5 180 L546 167.5 L551 160 L561 150 L563.5 135 L556 130 L553.5 120Z" fill="url(#pL)"/><path d="M608 99 L636.5 87 L655 82 L659 78 L669 77 L676.5 82 L681.5 87.5 L680 100 L674 107.5 L661.5 106 L654 111 L639 110 L635 106 L621.5 105 L616.5 101 L609 104Z" fill="url(#pD)"/><path d="M676.5 82 L686.5 74 L696.5 68 L700 59 L706.5 75 L694 79 L684 84 L681.5 87.5Z" fill="url(#pD)"/><path d="M710 81 L716.5 79 L729 74 L739 65 L744 68 L751 74 L761 80 L766 104 L754 103 L749 109 L739 105 L731.5 100 L721.5 92.5 L714 86Z" fill="url(#pD)"/><path d="M684 84 L694 79 L706.5 75 L710 81 L714 86 L721.5 92.5 L731.5 100 L739 105 L737 120 L733 133 L719 141 L709 146 L710 130 L704 117.5 L694 110 L689 105 L696.5 95 L686.5 90Z" fill="url(#pL)"/><path d="M629.3 116.7 L634.7 122 L636 128.7 L634.7 134 L626.7 132.7 L621.3 134 L620 130 L625.3 123.3Z" fill="url(#pD)"/><path d="M681.5 122.5 L689 120 L691.5 127.5 L684 130Z" fill="url(#pD)"/><path d="M681.5 140 L691.5 140 L691.5 150 L681.5 150Z" fill="url(#pD)"/><path d="M544 200 L554.7 190.7 L562.7 196 L566.7 206.7 L568 214.7 L562.7 218.5 L550.7 214.7 L545.3 206.7Z" fill="url(#pX)"/><path d="M581.3 177.3 L586.7 173.3 L606.7 170.7 L608 176 L605.3 184 L593.3 186.7 L590.7 192 L596 198.7 L593.3 205.3 L586.7 209.3 L577.3 213.3 L570.7 218.7 L568 214.7 L577.3 206.7 L581.3 198.7 L584 190.7 L582.7 182.7Z" fill="url(#pX)"/><path d="M593.3 186.7 L605.3 184 L612 186.7 L613.3 190.7 L598.7 190.7 L590.7 192Z" fill="url(#pL)"/><path d="M612 150 L613.3 146 L618.7 147.3 L622.7 143.3 L626.7 144.7 L625.3 148.7 L622.7 151.3 L628 156.7 L629.3 160.7 L622.7 162 L618.7 156.7Z" fill="url(#pX)"/><path d="M642.7 126 L650.7 124.7 L660 130 L661.5 135 L674 150 L671.5 157.5 L666.5 165 L654 165 L646.5 170 L640 164.7 L629.3 160.7 L628 156.7 L622.7 151.3 L625.3 148.7 L626.7 144.7 L622.7 143.3 L620 139.3 L622.7 135.3 L626.7 134 L634.7 135.3 L638.7 132.7Z" fill="url(#pL)"/><path d="M654 165 L664 166 L679 177.5 L683 182.5 L691 196 L683 207.5 L674 217 L661.5 226 L651.5 231 L641.5 235 L639 225 L641.5 217.5 L634 212.5 L629 211 L639 200 L639 187.5 L646.5 175Z" fill="url(#pX)"/><path d="M605 215 L614 212.5 L621.5 212.5 L624 222.5 L629 230 L636.5 235 L634 239 L624 232.5 L616.5 227.5 L609 225Z" fill="url(#pX)"/><path d="M620 212 L628 211 L638 218 L636 223 L640 229 L638 233 L634 236 L628 230 L624 222Z" fill="url(#pD)"/><path d="M577 237 L582 240 L588 242 L595 240 L594 248 L595 256 L592 257 L586 254 L580 244Z" fill="url(#pL)"/><path d="M594 230 L601.5 226 L606.5 232.5 L603 242.5 L606.5 255 L604 270 L596.5 272.5 L594 260 L596.5 245 L591.5 235Z" fill="url(#pX)"/><path d="M606.5 232.5 L614 236 L624 244 L626.5 257.5 L626.5 264 L616.5 265 L604 270 L606.5 255 L603 242.5Z" fill="url(#pL)"/><path d="M579 247.5 L584 250 L589 257.5 L594 260 L596.5 272.5 L594 282.5 L592.5 289 L589 287 L583.5 280 L578 270 L578 260 L579 257.5 L571 255 L561 260 L551 257.5 L536 265 L528.5 257.5 L531 250 L536 242.5 L541 232.5 L538.5 219 L541 216 L548.5 212.5 L561 220 L571 222.5 L576 232.5Z" fill="url(#pD)"/><path d="M604 270 L616.5 265 L626.5 264 L631 267.5 L636 280 L634 290 L624 296 L611.5 297 L604 300 L596 296 L594.4 290.8 L592.5 289 L594 282.5 L596.5 272.5Z" fill="#f7f7f7"/><path d="M505 244 L511 241 L521 240 L531 250 L528.5 257.5 L536 266 L526 270 L511 267.5 L506 255Z" fill="url(#pX)"/><path d="M498.5 300 L503.5 292.5 L516 285 L526 277.5 L536 270 L538.5 280 L536 292.5 L533.5 300 L533.5 312.5 L528.5 320 L521 321 L511 315 L503.5 310 L498.5 305Z" fill="url(#pM)"/><path d="M545 258 L551 257.5 L561 260 L571 255 L579 257.5 L578 270 L565.3 270.9 L558 280 L552.6 272.7 L545.4 263.6Z" fill="url(#pM)"/><path d="M486 294 L492 296 L497 300 L498.5 305 L503.5 310 L511 315 L521 321 L528.5 320 L533.5 312.5 L536 311 L553.5 309 L561 310 L552 316 L545 323 L544 345 L531 343 L521 339 L516 329 L503.5 322.5 L491 315.5 L489 307.5Z" fill="#f7f7f7"/><path d="M280.9 404.9 L283.1 411.5 L290.8 407.1 L304 405.6 L323.9 406 L334.9 410.4 L348.1 415.9 L363.5 421.4 L374.5 420.3 L383.3 419.2 L388.8 425.8 L389.9 430.2 L396.5 426.9 L403.1 423.6 L402 432.4 L398.9 438.9 L396.5 445.1 L392.6 449.8 L388 454.4 L385.6 453.6 L384.5 451.7 L383.3 452.9 L380.6 457.5 L380.2 463 L384.1 465.3 L389.5 470 L393.4 476.2 L395.7 479.3 L406.6 478.5 L409.7 471.5 L412.8 468.4 L417.5 470 L418.3 480 L420.8 489.7 L415.3 496.3 L407.5 498.5 L405.3 491.9 L400.9 490.8 L385.5 491.9 L370.1 491.9 L363.5 486.4 L360.2 479.8 L356.9 478.7 L339.3 477.6 L330.5 483.1 L319.5 482 L309.5 479.8 L305.1 467.7 L302.9 462.2 L284.2 453.4 L276.5 446.8 L275.4 442.3 L266.6 436.8 L273.2 431.3 L272.1 422.5 L276.5 414.8Z" fill="#f7f7f7"/><path d="M75 129 L86 124 L91 122.5 L99 127.5 L96 137.5 L90 145 L89 150 L91 161 L84 164 L79 157.5 L80 150 L80 140Z" fill="#f7f7f7"/></g><g fill="none" stroke="#000" stroke-width="1.7" stroke-linejoin="round" stroke-linecap="round"><path d="M11 141 L17.5 139 L25 137 L27.5 132.5 L35 131 L39 122.5 L46 119 L59 115.5 L59 106 L62.5 102 L66 106 L72.5 104 L80 104 L82.5 109 L92.5 106 L100 100 L109 98 L111 107.5 L115 112.5 L122.5 105 L140 102 L142.5 95 L141 72.5 L152.5 71 L154.7 74.7 L157.8 73.2 L159.3 65.9 L162.4 64.4 L169.7 65.9 L172.3 71.1 L174.4 70 L177 70 L181 74.2 L185.2 75.8 L189.4 79.4 L193.5 82.5 L195.6 85.6 L200.3 86.6 L202.8 81.5 L201.3 74.2 L198.7 69 L194.6 63.8 L190.9 59.7 L194.6 56.6 L201.8 54 L208 50.4 L212.2 46.2 L217.4 42.1 L220.5 37.5 L228 32.5 L230.5 24 L245.5 22 L258 22.5 L268 25 L283 24.5 L293 24 L300.5 16 L305.5 14 L315.5 10 L318 12.5 L319.4 20.4 L323.3 25.5 L329.8 28.1 L335 32 L339.5 37.2 L341.7 47.6 L342.3 55.3 L345.3 57.3 L348.2 56.6 L347.1 48.9 L346.4 42.4 L350.5 35.9 L357 37.2 L360.9 34 L366 35.9 L367.4 41.1 L373.8 46.3 L380.3 47.6 L389.4 51.5 L398.5 49 L403.5 57.5 L413.5 57.5 L421 56 L427 64 L432 64 L438.5 72.5 L443.5 80 L453.5 82.5 L461 87.5 L468.5 90 L478.5 96 L488.5 99 L490 105 L495 100 L506 102.5 L521 103 L531 100 L535 104 L538.5 99 L546 95 L556 96 L557 94 L561 102.5 L568.5 107.5 L579 105 L586.5 106 L588 111 L591.5 105 L606.5 97.5 L621.5 92.5 L636.5 89 L646.5 86 L655 84 L659 80 L669 79 L676.5 84 L681 86 L686.5 76 L696.5 70 L700 61 L706.5 55 L719 50 L729 46 L735 43 L736.5 49 L734 54 L739 65 L744 70 L749 74 L759 80 L764 102.5 L754 101 L749 107.5 L739 105 L735 120 L731.5 132.5 L719 139 L709 144 L709 150 L704 153 L700 150 L695 154 L690 150 L686 153 L684 152.5 L680 167.5 L681.5 182.5 L689 196 L681.5 207.5 L674 216 L661.5 225 L651.5 230 L639 237.5 L636.5 245 L638 250 L633 260 L629.7 261.8 L630.6 270.9 L634.3 280 L632.4 289 L625.2 293.5 L614.3 294.5 L607 296.3 L603.4 305.3 L599.8 312.6 L590.7 316.2 L579.8 314.4 L574.4 319 L567.2 319 L562.6 311.7 L556.3 310.8 L550.8 319.8 L543.6 323.5 L542.7 343.4 L541 350 L545 372.5 L538.5 382.5 L530 392.5 L528.5 405 L525 410 L530 425 L533.5 431 L523.5 435 L508.5 440 L507 450 L511 457.5 L511 470 L516 475 L521 474 L522 487.5 L506 491 L497 496 L496 500 L481 500 L485 496 L481 490 L473.5 485 L461 486 L452 492.5 L448.5 500 L440 506 L436 512.5 L428.5 511 L433.5 527.5 L446 527.5 L451 537.5 L458.5 525 L463.5 516 L473.5 521 L476 535 L478.5 546 L472 555 L476 569 L462 572.5 L465 586 L456 587.5 L436 586 L421 585 L425 571 L418.5 580 L413.5 586 L416 590 L401 586 L396 587.5 L393.5 592.5 L388.5 595 L386 586 L386 580 L383 584 L379 581 L373 586 L364 590 L358 577.5 L350.5 575 L349 566 L338 571 L345.5 550 L348 535 L348 524 L338 519 L330.5 512.5 L323 509 L313 509 L309 515 L309 522.5 L305.5 532.5 L295.5 541 L289 544 L287 549 L285.5 544 L280.5 539 L279 532.5 L288 522.5 L288 515 L280.5 515 L277 512.5 L278 505 L273 499 L265.5 497.5 L258 492.5 L253 485 L253 474 L247 462.5 L238 459 L228 455 L217 457.5 L212 450 L210.5 450 L204 447.5 L200.5 441 L193 437.5 L186 432.5 L185 425 L180 422.5 L172.5 421 L170 426 L165 421 L155 425 L144 427.5 L150 407.5 L142.5 404 L137.5 399 L141 395 L145 382.5 L150 375 L157.5 365 L160 354 L157.5 349 L152.5 349 L147.5 357.5 L142.5 364 L132.5 367.5 L122.5 362.5 L117.5 375 L112.5 380 L117.5 386 L110 384 L100 374 L87.5 360 L82 351 L85 350 L86 341 L99 335 L100 327.5 L105 317.5 L110 312 L117.5 314 L130 316 L145 321 L144 331 L150 334 L152.5 337.5 L157.5 340 L162.5 336 L167.5 341 L180 340 L193 337.5 L200.5 337.5 L203 332.5 L208 325 L215.5 319 L212.7 314.7 L207.3 309.3 L200 310 L199.3 306.7 L194 302.7 L188 298 L191.3 292.7 L188.7 289.3 L182 283.3 L180 280.7 L174 278.7 L170 280 L160.7 279.3 L155 279 L142.5 280 L136 275 L131 270 L132.5 266 L144 265 L145 242.5 L139 239 L145 232.5 L150 225 L149 217.5 L142.5 220 L132.5 216 L129 210 L135 199 L136 190 L145 184 L140 176 L130 176 L122.5 180 L115 176 L110 180 L104 171 L100 165 L96 166 L86 167.5 L77.5 174 L70 179 L59 184 L55 190 L45 195 L37.5 199 L26 202 L24 190 L19 175 L19 161 L15 150Z"/><path d="M280.9 404.9 L283.1 411.5 L290.8 407.1 L304 405.6 L323.9 406 L334.9 410.4 L348.1 415.9 L363.5 421.4 L374.5 420.3 L383.3 419.2 L388.8 425.8 L389.9 430.2 L396.5 426.9 L403.1 423.6 L402 432.4 L398.9 438.9 L396.5 445.1 L392.6 449.8 L388 454.4 L385.6 453.6 L384.5 451.7 L383.3 452.9 L380.6 457.5 L380.2 463 L384.1 465.3 L389.5 470 L393.4 476.2 L395.7 479.3 L406.6 478.5 L409.7 471.5 L412.8 468.4 L417.5 470 L418.3 480 L420.8 489.7 L415.3 496.3 L407.5 498.5 L405.3 491.9 L400.9 490.8 L385.5 491.9 L370.1 491.9 L363.5 486.4 L360.2 479.8 L356.9 478.7 L339.3 477.6 L330.5 483.1 L319.5 482 L309.5 479.8 L305.1 467.7 L302.9 462.2 L284.2 453.4 L276.5 446.8 L275.4 442.3 L266.6 436.8 L273.2 431.3 L272.1 422.5 L276.5 414.8Z"/><path d="M75 129 L86 124 L91 122.5 L99 127.5 L96 137.5 L90 145 L89 150 L91 161 L84 164 L79 157.5 L80 150 L80 140Z"/><path d="M168.7 276.7 L174 272.7 L180 267.3 L181.3 261.3 L186 254.7 L190 256 L196 254.7 L196.7 260 L200 260.7 L194 268 L196 270.7 L203.3 274 L208.7 274.7 L214 275.3 L215.3 280 L214 284 L219.3 282.7 L224.7 282 L227.3 283.3 L225.3 286 L218 288.7 L212.7 288.7 L206 290 L204.7 292.7 L191.3 292.7 L188.7 289.3 L182 283.3 L180 280.7 L174 278.7 L170 280Z"/><path d="M145 184 L150 187.5 L160 196 L175 191 L193 187 L198.3 180 L200.8 173.3 L199.2 166.7 L200 159.2 L197.5 154.2 L193.3 153.3 L190 157.5 L193.3 160 L198.3 160.8 L201.7 161.7 L206.7 165 L216.7 162.5 L218.3 168.3 L223.3 175 L226.7 180 L230.5 185 L235.5 200 L228 210 L219 224 L230.5 234 L243 245 L255.5 254 L268 252.5 L278 256 L288 260 L300.5 261 L309 264 L315.5 266 L322 262.5 L325.5 267.5 L330 264.2 L337.5 263.3 L342.5 268.3 L348.3 266.7 L355 263.7 L361.7 265.8 L368.3 269.2 L370 261.7 L365.8 252.5 L360 245 L356.7 238.3 L361.7 234.2 L370 230 L385 232.5 L396.7 232.5 L406.7 230.8"/><path d="M461 88 L456 98 L454 106 L460 114 L462 120 L456 130 L448 144 L438 148 L428 152 L429 156 L432 162.5 L433.5 180 L423.5 184 L426 207.5 L425.8 224.2 L420.8 226.7 L415 225 L408.3 228.3 L406.7 230.8"/><path d="M406.7 230.8 L407.5 236.7 L411.7 243.3 L415.8 254.2 L410 260 L407.5 267.5 L396.7 272.5 L386.7 277.5 L383.3 281.7 L385 288.3 L382.5 291.7 L391.7 301.7 L400 304.2 L405.8 305.8 L408.3 310.8 L410.8 300 L413.3 298.3 L425 303.3 L430 305 L438.3 302.5 L446.7 305.8 L450 307.5 L461 309 L476 310 L491 314 L503.5 321 L516 327.5 L521 337.5 L531 341 L542.7 343.4"/><path d="M163.5 64.9 L171.2 56.6"/></g><path d="M175.4 66.9 L177 65.6 L188.3 67.8" fill="none" stroke="#000" stroke-width="2.4" stroke-linecap="round"/><path d="M181 74.2 L185.2 75.8 L189.4 79.4 L193.5 82.5 L195.6 85.6 L200.3 86.6 L202.8 81.5 L201.3 74.2 L198.7 69" fill="none" stroke="#000" stroke-width="2.6" stroke-linejoin="round"/><path d="M344.3 26.6 L347 28.8" stroke="#000" stroke-width="1.8" stroke-linecap="round"/><path d="M676.5 84 L681 83.5 L686.5 85.5 L686 88.5 L681 88.5 L678 87 Z" fill="#000"/><path d="M187.3 73.2 L191.5 75.2 L193.8 76.8 L192.5 79.5 L189.4 80 L187 77 Z" fill="#000"/><g font-family="'Liberation Sans', Arial, sans-serif" font-weight="bold" font-size="8.45px" fill="#fff"><text x="224" y="130.5">Bilbao</text><text x="325" y="384.7">Vitoria-Gasteiz</text><text x="650" y="97.5" text-anchor="middle">Donostia/</text><text x="650" y="107.3" text-anchor="middle">San Sebastián</text></g><g shape-rendering="crispEdges"><rect x="615" y="438" width="21" height="20" fill="url(#qD)"/><rect x="615" y="465" width="21" height="21" fill="url(#qM)"/><rect x="615" y="491" width="21" height="21" fill="url(#qL)"/><rect x="615" y="518" width="21" height="20" fill="url(#qX)"/></g><g font-family="'Liberation Sans', Arial, sans-serif" font-size="12.2px" fill="#222"><text x="646.5" y="453">&gt; 9,40%</text><text x="646.5" y="480">6,50% - 9,40%</text><text x="646.5" y="506.5">3,80% - 6,49%</text><text x="646.5" y="534">&lt; 3,80</text></g></svg></body></html>
